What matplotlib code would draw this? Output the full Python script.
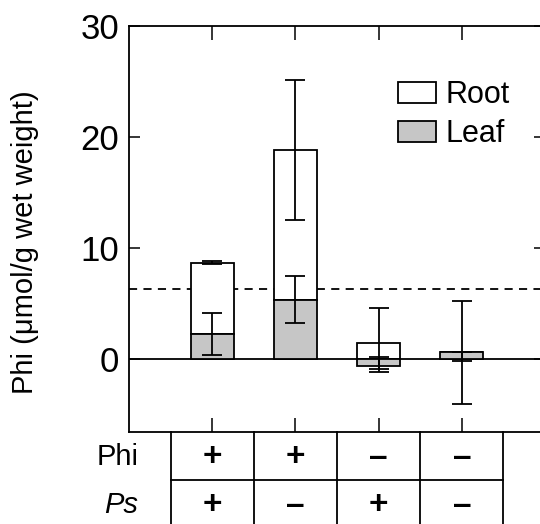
import numpy as np
import matplotlib
matplotlib.use("Agg")
import matplotlib.pyplot as plt
from matplotlib.patches import Patch
import matplotlib.transforms as mtransforms

plt.rcParams['font.family'] = ['Liberation Sans', 'DejaVu Sans']

# ---- data ----
groups = ["G1", "G2", "G3", "G4"]
phi_row = ["+", "+", "\u2013", "\u2013"]
ps_row = ["+", "\u2013", "+", "\u2013"]
leaf = [2.2, 5.3, -0.63, 0.6]
root = [6.45, 13.5, 1.44, 0.05]          # stacked on top of positive leaf
root_err_lo = [0.15, 6.3, 2.37, 4.7]
root_err_hi = [0.15, 6.3, 3.13, 4.6]
leaf_err_lo = [1.9, 2.1, 0.6, 0.84]
leaf_err_hi = [1.9, 2.2, 0.83, 0.03]
threshold = 6.3
yticks = [0, 10, 20, 30]

fig = plt.figure(figsize=(5.4, 5.24), dpi=100)
ax = fig.add_axes([129/540, (524-432)/524, (545-129)/540, (432-26)/524])

x = np.arange(len(groups))
leaf_a = np.array(leaf)
root_bottom = np.clip(leaf_a, 0, None)
root_top = root_bottom + np.array(root)
lw = 1.3
width = 0.52
gray = '#c6c6c6'

ax.bar(x, root, bottom=root_bottom, width=width, color='white', edgecolor='black', linewidth=lw, zorder=2)
ax.bar(x, leaf, width=width, color=gray, edgecolor='black', linewidth=lw, zorder=3)
ax.errorbar(x, root_top, yerr=[root_err_lo, root_err_hi], fmt='none', ecolor='black',
            elinewidth=lw, capsize=7.5, capthick=lw, zorder=4)
ax.errorbar(x, leaf, yerr=[leaf_err_lo, leaf_err_hi], fmt='none', ecolor='black',
            elinewidth=lw, capsize=7.5, capthick=lw, zorder=4)

ax.axhline(0, color='black', linewidth=lw, zorder=1)
ax.axhline(threshold, color='black', linewidth=lw, linestyle=(0, (4.5, 3.5)), zorder=1)

ax.set_xlim(-1, 4)
ax.set_ylim(-6.6, 30)
ax.set_yticks(yticks)
ax.set_xticks(x)
ax.set_xticklabels([])
ax.tick_params(axis='y', direction='in', length=8, width=1.1, labelsize=25, pad=7,
               left=True, right=True)
ax.tick_params(axis='x', direction='in', length=10, width=1.1, top=True, bottom=True)
for s in ax.spines.values():
    s.set_linewidth(lw)

# legend
handles = [Patch(facecolor='white', edgecolor='black', linewidth=lw, label='Root'),
           Patch(facecolor=gray, edgecolor='black', linewidth=lw, label='Leaf')]
fig.legend(handles=handles, loc='upper left', bbox_to_anchor=(398/540, 1-80/524),
           frameon=False, fontsize=22, handlelength=1.25, handleheight=0.7,
           handletextpad=0.3, labelspacing=0.3, borderpad=0, borderaxespad=0)

fig.text(25/540, 1-242/524, 'Phi (\u03bcmol/g wet weight)', rotation=90,
         ha='center', va='center', fontsize=21)

# condition table below axes
trans = mtransforms.blended_transform_factory(ax.transData, ax.transAxes)
bounds = np.arange(len(groups) + 1) - 0.5
for b in bounds:
    ax.plot([b, b], [0, -0.3], color='black', linewidth=lw, transform=trans, clip_on=False)
ax.plot([bounds[0], bounds[-1]], [-0.118, -0.118], color='black', linewidth=lw,
        transform=trans, clip_on=False)
for xi, p, q in zip(x, phi_row, ps_row):
    ax.text(xi, -0.0616, p, transform=trans, ha='center', va='center', fontsize=24, fontweight='bold')
    ax.text(xi, -0.18, q, transform=trans, ha='center', va='center', fontsize=24, fontweight='bold')
ax.text(-0.89, -0.0616, 'Phi', transform=trans, ha='right', va='center', fontsize=21)
ax.text(-0.89, -0.18, 'Ps', transform=trans, ha='right', va='center', fontsize=21, style='italic')

fig.savefig('out.png', dpi=100)
